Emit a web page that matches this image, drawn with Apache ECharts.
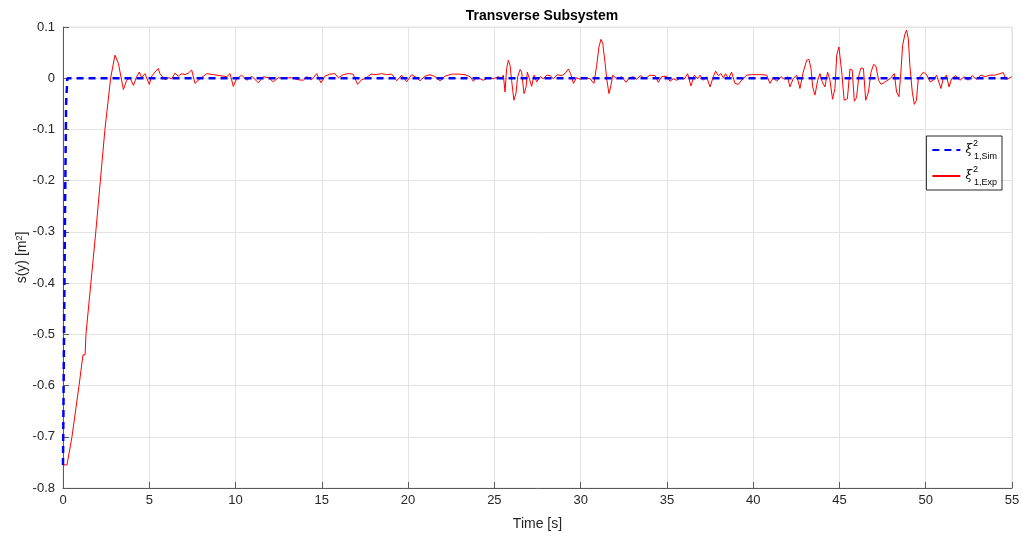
<!DOCTYPE html>
<html>
<head>
<meta charset="utf-8">
<script src="https://cdn.jsdelivr.net/npm/echarts@6/dist/echarts.min.js"></script>
<style>
  html, body { margin: 0; padding: 0; background: #fff; }
  #chart { width: 1023px; height: 538px; }
</style>
</head>
<body>
<div id="chart"></div>
<script>
// simulated response
const simTime = [0, 0.06, 0.12, 0.18, 0.25, 55];
const simValue = [-0.755, -0.5, -0.25, -0.05, 0, 0];

const expTime = [
  0, 0.23, 0.52, 0.93, 1.16, 1.28, 1.33, 1.9, 2.43, 2.76, 3.01, 3.21, 3.5, 3.69, 3.88, 4.08, 4.27, 4.42, 4.56, 4.75,
  5.0, 5.14, 5.33, 5.52, 5.62, 5.71, 5.91, 6.1, 6.3, 6.49, 6.68, 6.88, 7.07, 7.26, 7.46, 7.65, 7.94, 8.33, 8.71, 9.1,
  9.49, 9.68, 9.87, 10.06, 10.36, 10.65, 10.94, 11.32, 11.61, 11.9, 12.19, 12.48, 12.77, 13.06,
  13.25, 13.64, 13.93, 14.12, 14.41, 14.7, 14.95, 15.18, 15.47, 15.76, 15.96, 16.24, 16.53, 16.82, 17.07, 17.3, 17.5,
  17.85, 18.15, 18.47, 18.76, 19.05, 19.34, 19.63, 19.92, 20.21, 20.5, 20.69, 20.98, 21.27, 21.56, 21.85, 22.14,
  22.52, 22.91, 23.3, 23.59, 23.78, 23.97, 24.36, 24.65, 24.94, 25.23, 25.42, 25.52, 25.62, 25.71, 25.81, 25.91,
  26.0, 26.13, 26.25, 26.35, 26.49, 26.58, 26.72, 26.84, 26.91, 27.03, 27.16, 27.3, 27.45, 27.65, 27.84, 28.03,
  28.23, 28.42, 28.65, 28.9, 29.09, 29.29, 29.42, 29.58, 29.77, 29.96, 30.25, 30.54, 30.77, 30.93, 31.06, 31.18,
  31.28, 31.41, 31.51, 31.64, 31.74, 31.86, 32.09, 32.38, 32.63, 32.82, 33.05, 33.24, 33.47, 33.73, 34.02, 34.31,
  34.5, 34.7, 34.98, 35.18, 35.37, 35.56, 35.81, 36.0, 36.2, 36.39, 36.59, 36.78, 36.92, 37.11, 37.3, 37.5, 37.69,
  37.82, 37.98, 38.13, 38.27, 38.4, 38.56, 38.75, 38.94, 39.14, 39.33, 39.62, 39.91, 40.2, 40.49, 40.78, 40.97,
  41.17, 41.36, 41.61, 41.8, 41.99, 42.13, 42.32, 42.52, 42.71, 42.9, 43.1, 43.23, 43.35, 43.45, 43.58, 43.74,
  43.87, 44.0, 44.16, 44.31, 44.45, 44.6, 44.74, 44.84, 44.97, 45.08, 45.15, 45.27, 45.46, 45.61, 45.74, 45.86,
  45.99, 46.13, 46.25, 46.39, 46.52, 46.68, 46.83, 46.98, 47.11, 47.27, 47.42, 47.65, 47.93, 48.18, 48.31, 48.45,
  48.56, 48.66, 48.8, 48.89, 48.99, 49.08, 49.22, 49.34, 49.46, 49.57, 49.73, 49.86, 50.05, 50.25, 50.44, 50.63,
  50.88, 51.01, 51.2, 51.35, 51.5, 51.73, 51.98, 52.23, 52.46, 52.69, 52.95, 53.2, 53.43, 53.71, 54.01, 54.3,
  54.5, 54.63, 54.78, 54.98
];
const expValue = [
  -0.755, -0.755, -0.7, -0.6, -0.54, -0.54, -0.5, -0.3, -0.1, 0, 0.045, 0.029, -0.022, -0.004, 0.001, -0.014, 0.003, 0.012, 0.001, 0.009,
  -0.012, 0.004, 0.012, 0.019, 0.009, 0.011, -0.003, 0.001, -0.001, 0.01, 0.004, 0.009, 0.007, 0.01, 0.016, -0.01, -0.001, 0.009, 0.007, 0.005,
  0.003, 0.009, -0.016, -0.001, 0.006, -0.004, 0.004, -0.009, 0.003, 0.001, -0.007, 0.001, 0, 0.001,
  0.001, -0.003, -0.004, 0.003, -0.003, 0.009, -0.009, 0.004, 0.008, 0.009, 0.001, 0.007, 0.009, 0.008, -0.012, -0.003, -0.001,
  0.008, 0.007, 0.009, 0.007, 0.008, -0.005, 0.006, -0.007, 0.007, 0.001, -0.005, 0.004, 0.007, 0.003, -0.005, 0.004,
  0.008, 0.008, 0.007, 0.003, -0.006, 0.002, -0.004, 0.001, -0.001, 0.003, -0.001, 0.006, -0.027, 0.019, 0.035, 0.025,
  -0.004, -0.043, -0.03, 0.003, 0.017, 0.012, -0.03, -0.017, 0.012, -0.001, -0.016, 0.006, -0.007, 0.003, -0.001, 0.006,
  0.005, -0.001, 0.007, 0.005, 0.009, 0.018, 0.009, -0.01, 0.001, -0.002, 0.001, -0.001, -0.01, 0.025, 0.061, 0.076,
  0.068, 0.032, -0.001, -0.03, -0.017, 0.006, -0.001, 0.003, -0.008, 0.001, 0.003, -0.002, 0.005, -0.001, 0.006, 0.005,
  -0.008, 0.003, 0.004, -0.006, -0.001, -0.004, 0.001, -0.002, 0.009, -0.015, 0.006, -0.001, 0.006, -0.004, 0.003, -0.017, 0.003,
  0.014, 0.005, 0.009, 0.001, 0.009, -0.001, 0.012, -0.01, -0.012, -0.004, 0.006, 0.007, 0.007, 0.007, 0.006, -0.01,
  0.001, -0.006, 0.003, -0.002, 0.003, -0.017, -0.001, 0.006, -0.02, 0.012, 0.035, 0.037, 0.019, -0.017, -0.033, -0.004,
  0.009, -0.007, -0.017, 0.012, -0.004, -0.041, -0.02, 0.045, 0.061, 0.058, 0.006, -0.043, -0.04, 0.018, 0.016, -0.045,
  -0.038, 0.006, 0.02, 0.019, -0.043, -0.027, 0.012, 0.027, 0.024, -0.004, -0.012, -0.007, -0.001, 0.009, -0.027, -0.036,
  0.012, 0.064, 0.087, 0.094, 0.077, 0.025, -0.027, -0.051, -0.043, -0.001, 0.006, 0.012, 0.007, -0.007, -0.004, 0.006,
  -0.02, -0.001, 0.006, -0.017, -0.001, 0.005, -0.004, 0.003, -0.004, 0.005, -0.002, 0.006, 0.003, 0.006, 0.006, 0.009,
  0.011, -0.002, -0.001, 0.003
];

const xTicks = { min: 0, max: 55, interval: 5 };
const yTicks = { min: -0.8, max: 0.1, interval: 0.1 };

const zip = (xs, ys) => xs.map((x, i) => [x, ys[i]]);

const chart = echarts.init(document.getElementById('chart'));
const font = 'Liberation Sans, Arial, sans-serif';
const axisGray = '#5a5a5a';

chart.setOption({
  backgroundColor: '#ffffff',
  animation: false,
  title: {
    text: 'Transverse Subsystem',
    left: 537,
    textAlign: 'center',
    top: 4,
    textStyle: { fontFamily: font, fontSize: 14, fontWeight: 'bold', color: '#000' }
  },
  grid: {
    left: 63, right: 11, top: 27, bottom: 50,
    show: true, borderColor: '#e3e3e3', borderWidth: 1
  },
  legend: {
    orient: 'vertical',
    right: 21,
    top: 136,
    data: ['Sim', 'Exp'],
    itemWidth: 28,
    itemHeight: 14,
    itemGap: 4,
    padding: [3, 5, 3, 5],
    borderColor: '#262626',
    borderWidth: 1,
    backgroundColor: '#fff',
    itemStyle: { opacity: 0 },
    formatter: name => '{g|ξ}{p|2}{b|1,' + name + '}',
    textStyle: {
      fontFamily: font,
      color: '#000',
      rich: {
        g: { fontSize: 12, fontFamily: 'DejaVu Serif', fontStyle: 'italic', lineHeight: 22, verticalAlign: 'middle' },
        p: { fontSize: 9, width: 0, verticalAlign: 'top', fontFamily: font, padding: [0, 0, 0, 1] },
        b: { fontSize: 9, verticalAlign: 'bottom', fontFamily: font, padding: [0, 0, 0, 1] }
      }
    }
  },
  xAxis: {
    type: 'value',
    min: xTicks.min, max: xTicks.max, interval: xTicks.interval,
    name: 'Time [s]',
    nameLocation: 'middle',
    nameGap: 29,
    nameTextStyle: { fontFamily: font, fontSize: 14, color: '#262626' },
    axisLine: { onZero: false, lineStyle: { color: axisGray, width: 1 } },
    axisTick: { inside: true, length: 6, lineStyle: { color: axisGray } },
    axisLabel: { fontFamily: font, fontSize: 13, color: '#262626', margin: 6 },
    splitLine: { show: true, lineStyle: { color: '#e3e3e3', width: 1 } }
  },
  yAxis: {
    type: 'value',
    min: yTicks.min, max: yTicks.max, interval: yTicks.interval,
    name: '{a|s(y) [m}{s|2}{a|]}',
    nameLocation: 'middle',
    nameGap: 41,
    nameMoveOverlap: false,
    nameRotate: 90,
    nameTextStyle: {
      verticalAlign: 'middle',
      rich: {
        a: { fontFamily: font, fontSize: 14, color: '#262626' },
        s: { fontFamily: font, fontSize: 9, color: '#262626', verticalAlign: 'top' }
      }
    },
    axisLine: { onZero: false, lineStyle: { color: axisGray, width: 1 } },
    axisTick: { inside: true, length: 6, lineStyle: { color: axisGray } },
    axisLabel: {
      fontFamily: font, fontSize: 13, color: '#262626', margin: 8,
      formatter: v => String(+v.toFixed(1))
    },
    splitLine: { show: true, lineStyle: { color: '#e3e3e3', width: 1 } }
  },
  series: [
    {
      name: 'Sim',
      type: 'line',
      data: zip(simTime, simValue),
      showSymbol: false,
      symbol: 'none',
      z: 3,
      lineStyle: { color: '#0000ff', width: 2.5, type: [7, 5] },
      itemStyle: { color: '#0000ff' }
    },
    {
      name: 'Exp',
      type: 'line',
      data: zip(expTime, expValue),
      showSymbol: false,
      symbol: 'none',
      z: 2,
      lineStyle: { color: '#ff0000', width: 1 },
      itemStyle: { color: '#ff0000' }
    }
  ]
});
</script>
</body>
</html>
